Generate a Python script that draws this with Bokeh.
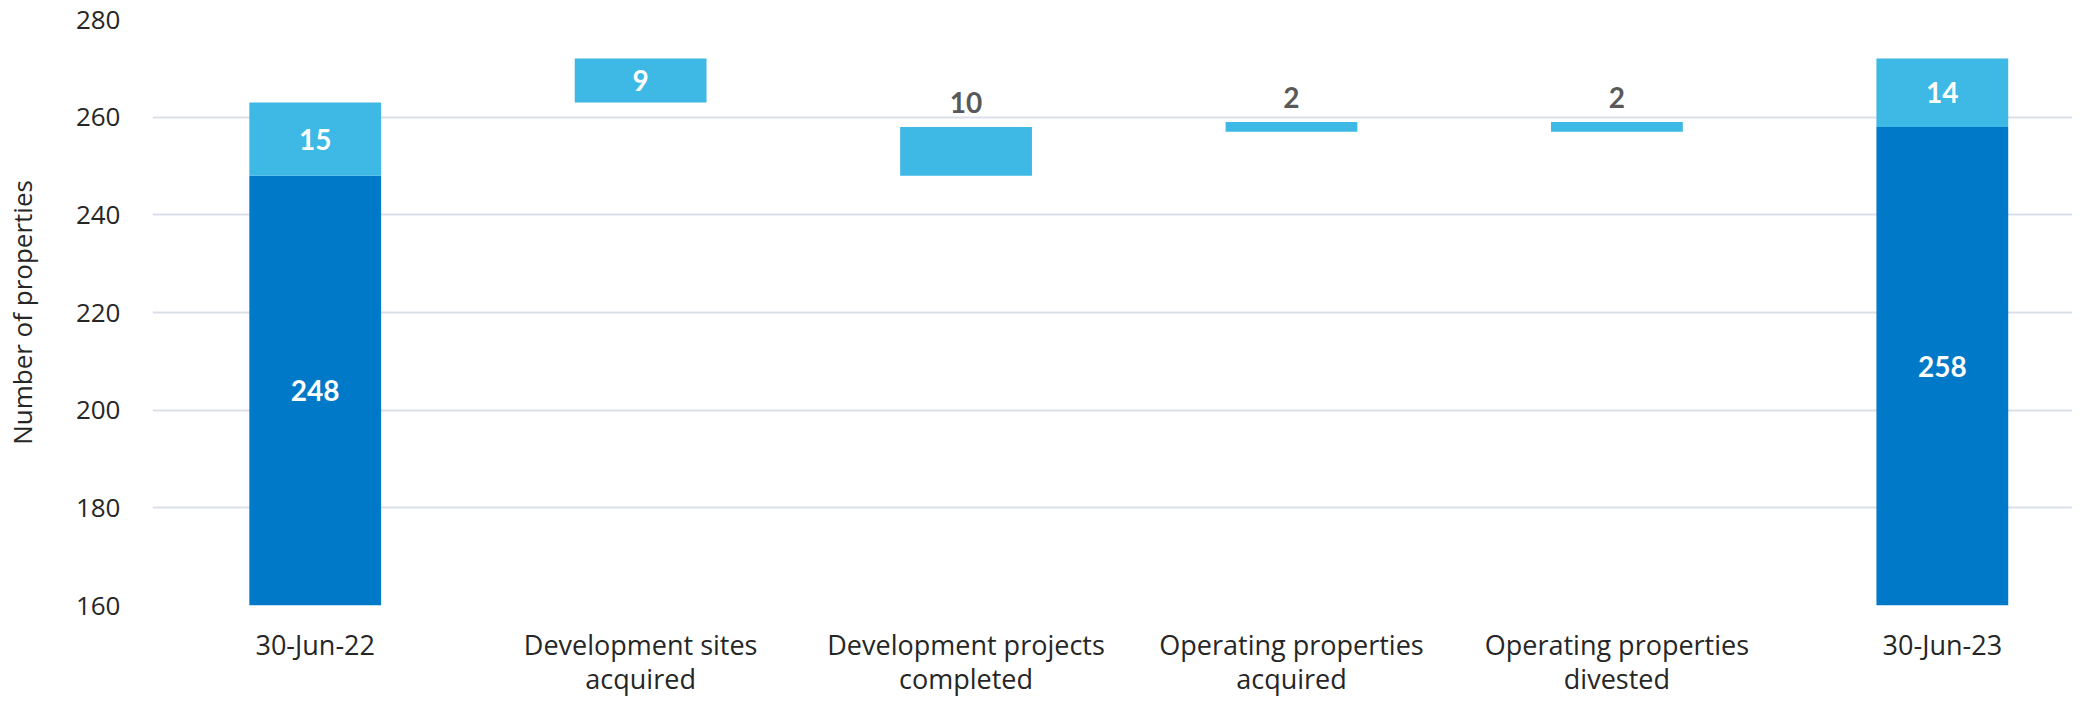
from bokeh.plotting import figure
from bokeh.models import Range1d, FixedTicker
from bokeh.core.properties import value
from bokeh.embed import file_html
from bokeh.resources import INLINE

categories = ["30-Jun-22", "Development sites\nacquired", "Development projects\ncompleted",
              "Operating properties\nacquired", "Operating properties\ndivested", "30-Jun-23"]
dark_values = [248, 0, 0, 0, 0, 258]
light_bottoms = [248, 263, 248, 257, 257, 258]
light_tops = [263, 272, 258, 259, 259, 272]
light_labels = [15, 9, 10, 2, 2, 14]
label_inside = [True, True, False, False, False, True]
y_ticks = [160, 180, 200, 220, 240, 260, 280]

DARK = "#0079C8"
LIGHT = "#3EB8E4"
FONT = "Open Sans"
LFONT = "Lato"
LABEL_SIZE = "28px"

xs = list(range(len(categories)))
p = figure(width=2072, height=699, output_backend="svg", toolbar_location=None,
           x_range=Range1d(-0.5, 5.40), y_range=Range1d(160, 280),
           min_border_left=142, min_border_right=0, min_border_top=19, min_border_bottom=90)
p.outline_line_color = None
p.background_fill_color = "white"

# dark (total) bars
dx = [x for x, v in zip(xs, dark_values) if v > 0]
dv = [v for v in dark_values if v > 0]
p.vbar(x=dx, bottom=160, top=dv, width=0.405, fill_color=DARK, line_color=None)
p.vbar(x=xs, bottom=light_bottoms, top=light_tops, width=0.405, fill_color=LIGHT, line_color=None)

# labels on dark bars
p.text(x=dx, y=[(160 + v) / 2 for v in dv], text=[str(v) for v in dv],
       text_font=value(LFONT), text_font_style="bold", text_font_size=LABEL_SIZE,
       text_color="white", text_align="center", text_baseline="middle")

# labels on light bars
ins = [i for i in xs if label_inside[i]]
outs = [i for i in xs if not label_inside[i]]
p.text(x=ins, y=[(light_bottoms[i] + light_tops[i]) / 2 for i in ins],
       text=[str(light_labels[i]) for i in ins],
       text_font=value(LFONT), text_font_style="bold", text_font_size=LABEL_SIZE,
       text_color="white", text_align="center", text_baseline="middle")
p.text(x=outs, y=[light_tops[i] + 5.0 for i in outs],
       text=[str(light_labels[i]) for i in outs],
       text_font=value(LFONT), text_font_style="bold", text_font_size=LABEL_SIZE,
       text_color="#595959", text_align="center", text_baseline="middle")

# axes
for ax in (p.xaxis, p.yaxis):
    ax.axis_line_color = None
    ax.major_tick_line_color = None
    ax.minor_tick_line_color = None
    ax.major_tick_out = 0
    ax.major_tick_in = 0
    ax.minor_tick_out = 0
    ax.minor_tick_in = 0
    ax.major_label_text_font = FONT
    ax.major_label_text_color = "#262626"

p.xaxis.ticker = FixedTicker(ticks=xs)
p.xaxis.major_label_overrides = {i: c for i, c in enumerate(categories)}
p.xaxis.major_label_text_font_size = "27px"
p.xaxis.major_label_text_line_height = 0.92
p.xaxis.major_label_standoff = 20

p.yaxis.ticker = FixedTicker(ticks=y_ticks)
p.yaxis.major_label_text_font_size = "26px"
p.yaxis.major_label_standoff = 32
p.yaxis.axis_label = "Number of properties"
p.yaxis.axis_label_text_font = FONT
p.yaxis.axis_label_text_font_size = "26px"
p.yaxis.axis_label_text_font_style = "normal"
p.yaxis.axis_label_text_color = "#262626"
p.yaxis.axis_label_standoff = 33

p.xgrid.grid_line_color = None
p.ygrid.grid_line_color = "#D9DFE7"
p.ygrid.grid_line_width = 2

open("out.html", "w").write(file_html(p, INLINE))
